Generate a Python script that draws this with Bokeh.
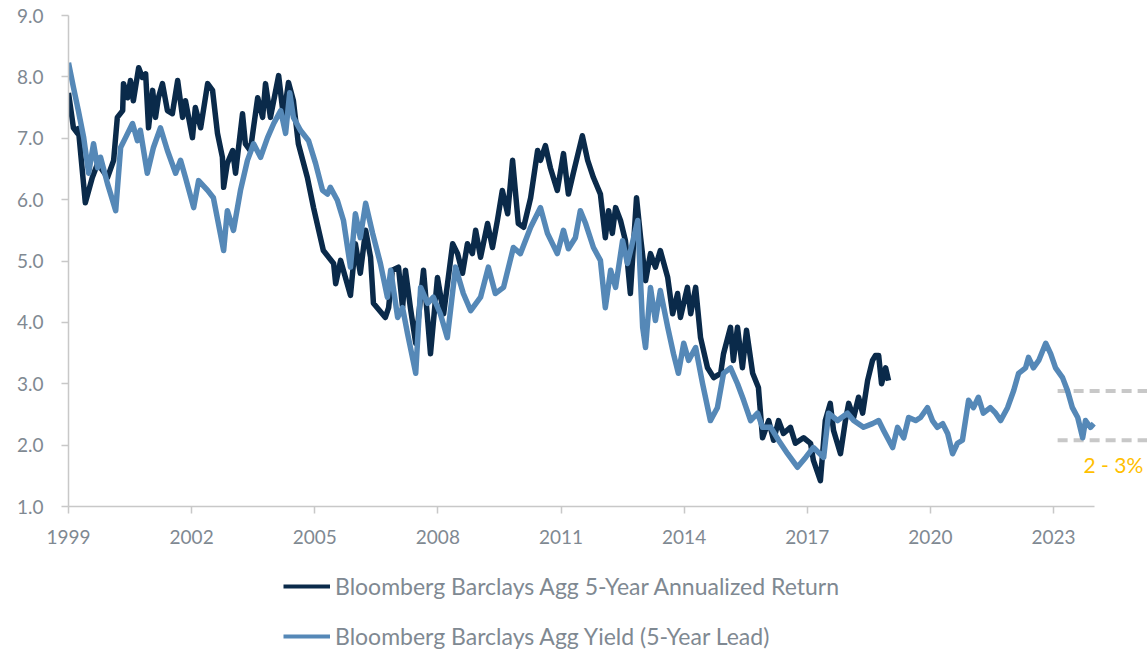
from bokeh.plotting import figure
from bokeh.layouts import column
from bokeh.models import Legend, LegendItem, FixedTicker, NumeralTickFormatter, Label, Range1d
from bokeh.embed import file_html
from bokeh.resources import INLINE

# Bloomberg Barclays Agg 5-Year Annualized Return
ret_years = [1999.00, 1999.12, 1999.22, 1999.24, 1999.41, 1999.58, 1999.71, 1999.95, 2000.10, 2000.19,
             2000.32, 2000.34, 2000.44, 2000.51, 2000.58, 2000.71, 2000.80, 2000.88, 2000.95, 2001.05,
             2001.12, 2001.19, 2001.29, 2001.41, 2001.53, 2001.66, 2001.78, 2001.85, 2002.02, 2002.09,
             2002.22, 2002.39, 2002.51, 2002.63, 2002.75, 2002.78, 2002.87, 2003.00, 2003.07, 2003.24,
             2003.31, 2003.43, 2003.61, 2003.73, 2003.80, 2003.92, 2004.12, 2004.24, 2004.36, 2004.48,
             2004.60, 2004.82, 2004.97, 2005.21, 2005.46, 2005.51, 2005.63, 2005.87, 2005.99, 2006.11,
             2006.24, 2006.36, 2006.43, 2006.72, 2006.80, 2006.89, 2007.04, 2007.14, 2007.21, 2007.33,
             2007.46, 2007.65, 2007.82, 2007.99, 2008.14, 2008.36, 2008.48, 2008.60, 2008.72, 2008.84,
             2008.92, 2009.04, 2009.21, 2009.33, 2009.45, 2009.57, 2009.70, 2009.82, 2009.96, 2010.09,
             2010.26, 2010.43, 2010.50, 2010.62, 2010.74, 2010.91, 2011.06, 2011.18, 2011.30, 2011.52,
             2011.65, 2011.79, 2011.96, 2012.08, 2012.16, 2012.25, 2012.33, 2012.45, 2012.57, 2012.69,
             2012.84, 2012.94, 2013.06, 2013.18, 2013.30, 2013.42, 2013.60, 2013.72, 2013.84, 2013.91,
             2014.08, 2014.16, 2014.28, 2014.40, 2014.57, 2014.72, 2014.89, 2014.96, 2015.13, 2015.20,
             2015.30, 2015.42, 2015.52, 2015.67, 2015.81, 2015.91, 2016.06, 2016.18, 2016.30, 2016.42,
             2016.59, 2016.71, 2016.91, 2017.08, 2017.15, 2017.32, 2017.44, 2017.56, 2017.64, 2017.81,
             2017.93, 2018.01, 2018.13, 2018.25, 2018.35, 2018.47, 2018.59, 2018.66, 2018.74, 2018.81,
             2018.91, 2018.98]
ret_vals = [7.74, 7.17, 7.08, 7.16, 5.95, 6.36, 6.59, 6.36, 6.64, 7.34,
            7.45, 7.89, 7.66, 7.94, 7.61, 8.15, 7.99, 8.05, 7.17, 7.78,
            7.34, 7.66, 7.89, 7.45, 7.40, 7.94, 7.34, 7.61, 7.01, 7.50,
            7.17, 7.89, 7.78, 7.08, 6.69, 6.20, 6.59, 6.80, 6.43, 7.40,
            6.91, 6.80, 7.66, 7.34, 7.89, 7.34, 8.02, 7.34, 7.91, 7.61,
            6.91, 6.36, 5.87, 5.17, 4.96, 4.63, 5.01, 4.44, 5.28, 4.80,
            5.50, 5.06, 4.31, 4.08, 4.24, 4.85, 4.90, 4.24, 4.85, 4.24,
            3.66, 4.85, 3.49, 4.73, 4.14, 5.28, 5.12, 4.80, 5.28, 5.12,
            5.50, 5.06, 5.61, 5.22, 5.66, 6.15, 5.77, 6.64, 5.61, 5.55,
            6.03, 6.80, 6.64, 6.88, 6.52, 6.15, 6.75, 6.09, 6.43, 7.04,
            6.64, 6.36, 6.09, 5.38, 5.82, 5.45, 5.87, 5.66, 5.33, 4.47,
            6.03, 5.38, 4.68, 5.12, 4.90, 5.17, 4.73, 4.14, 4.47, 4.08,
            4.57, 4.14, 4.57, 3.75, 3.26, 3.10, 3.17, 3.49, 3.92, 3.38,
            3.92, 3.26, 3.87, 3.17, 2.94, 2.12, 2.40, 2.08, 2.40, 2.19,
            2.29, 2.03, 2.12, 2.03, 1.75, 1.42, 2.40, 2.68, 2.24, 1.86,
            2.40, 2.68, 2.45, 2.78, 2.52, 3.05, 3.38, 3.46, 3.46, 3.00,
            3.26, 3.05]

# Bloomberg Barclays Agg Yield (5-Year Lead)
yld_years = [1999.00, 1999.12, 1999.24, 1999.37, 1999.49, 1999.61, 1999.71, 1999.78, 1999.95, 2000.15,
             2000.27, 2000.39, 2000.56, 2000.68, 2000.75, 2000.92, 2001.07, 2001.24, 2001.41, 2001.61,
             2001.73, 2001.85, 2002.05, 2002.17, 2002.39, 2002.53, 2002.78, 2002.87, 2003.02, 2003.19,
             2003.36, 2003.51, 2003.68, 2003.85, 2004.00, 2004.17, 2004.29, 2004.39, 2004.48, 2004.65,
             2004.85, 2005.02, 2005.19, 2005.31, 2005.38, 2005.55, 2005.70, 2005.87, 2005.99, 2006.11,
             2006.24, 2006.41, 2006.60, 2006.77, 2006.85, 2007.02, 2007.14, 2007.26, 2007.46, 2007.58,
             2007.75, 2007.89, 2008.06, 2008.23, 2008.43, 2008.62, 2008.80, 2009.04, 2009.23, 2009.40,
             2009.60, 2009.84, 2010.01, 2010.26, 2010.50, 2010.67, 2010.91, 2011.06, 2011.18, 2011.35,
             2011.47, 2011.60, 2011.79, 2011.96, 2012.08, 2012.21, 2012.33, 2012.50, 2012.62, 2012.87,
             2012.99, 2013.06, 2013.18, 2013.30, 2013.42, 2013.60, 2013.74, 2013.86, 2013.99, 2014.11,
             2014.28, 2014.45, 2014.64, 2014.81, 2014.96, 2015.13, 2015.30, 2015.45, 2015.62, 2015.79,
             2015.91, 2016.11, 2016.30, 2016.52, 2016.76, 2016.96, 2017.15, 2017.40, 2017.52, 2017.74,
             2017.98, 2018.13, 2018.37, 2018.59, 2018.74, 2018.86, 2019.08, 2019.20, 2019.35, 2019.47,
             2019.64, 2019.76, 2019.93, 2020.05, 2020.17, 2020.30, 2020.42, 2020.54, 2020.66, 2020.78,
             2020.93, 2021.05, 2021.17, 2021.29, 2021.46, 2021.59, 2021.71, 2021.88, 2022.03, 2022.15,
             2022.32, 2022.39, 2022.51, 2022.64, 2022.81, 2022.93, 2023.05, 2023.22, 2023.34, 2023.46,
             2023.59, 2023.71, 2023.78, 2023.90, 2023.98]
yld_vals = [8.23, 7.83, 7.45, 7.01, 6.43, 6.91, 6.52, 6.69, 6.26, 5.82,
            6.85, 7.01, 7.24, 6.96, 7.13, 6.43, 6.85, 7.17, 6.80, 6.43,
            6.64, 6.36, 5.87, 6.31, 6.15, 6.03, 5.17, 5.82, 5.50, 6.15,
            6.64, 6.91, 6.69, 7.01, 7.24, 7.45, 7.08, 7.74, 7.34, 7.13,
            6.96, 6.59, 6.15, 6.09, 6.20, 5.99, 5.66, 4.90, 5.77, 5.38,
            5.94, 5.45, 4.96, 4.41, 4.85, 4.08, 4.24, 3.82, 3.17, 4.57,
            4.31, 4.41, 4.14, 3.75, 4.90, 4.47, 4.19, 4.41, 4.90, 4.47,
            4.57, 5.22, 5.12, 5.55, 5.87, 5.45, 5.12, 5.50, 5.20, 5.38,
            5.82, 5.61, 5.22, 5.01, 4.24, 4.85, 4.57, 5.33, 4.96, 5.66,
            3.92, 3.59, 4.57, 4.03, 4.52, 3.92, 3.49, 3.17, 3.66, 3.38,
            3.59, 3.00, 2.40, 2.61, 3.17, 3.26, 3.00, 2.73, 2.40, 2.52,
            2.29, 2.29, 2.08, 1.86, 1.64, 1.80, 1.96, 1.80, 2.52, 2.40,
            2.52, 2.40, 2.29, 2.35, 2.40, 2.24, 1.96, 2.29, 2.12, 2.45,
            2.40, 2.45, 2.61, 2.40, 2.29, 2.35, 2.19, 1.86, 2.03, 2.08,
            2.73, 2.61, 2.78, 2.52, 2.61, 2.52, 2.40, 2.61, 2.89, 3.17,
            3.26, 3.43, 3.26, 3.38, 3.66, 3.49, 3.26, 3.10, 2.89, 2.61,
            2.45, 2.12, 2.40, 2.29, 2.35]

band_levels = [2.88, 2.08]
band_span = [2023.1, 2025.5]
band_label = "2 - 3%"
x_ticks = [1999, 2002, 2005, 2008, 2011, 2014, 2017, 2020, 2023]
y_ticks = [1, 2, 3, 4, 5, 6, 7, 8, 9]
series_names = ["Bloomberg Barclays Agg 5-Year Annualized Return",
                "Bloomberg Barclays Agg Yield (5-Year Lead)"]

DARK = "#0a2a4a"
LIGHT = "#5588b7"
GREY_TXT = "#7f8992"
AXIS = "#c8c8c8"
FONT = "Lato"

p = figure(width=1147, height=560, output_backend="svg", toolbar_location=None,
           x_range=Range1d(1999, 2025.29), y_range=Range1d(1, 9),
           min_border_left=68, min_border_top=15, min_border_right=0, min_border_bottom=54)
p.xgrid.visible = False
p.ygrid.visible = False
p.outline_line_color = None
p.background_fill_color = "white"
p.border_fill_color = "white"

for ax in (p.xaxis[0], p.yaxis[0]):
    ax.axis_line_color = AXIS
    ax.axis_line_width = 1.5
    ax.major_tick_line_color = AXIS
    ax.major_tick_line_width = 1.5
    ax.major_tick_in = 0
    ax.major_tick_out = 7
    ax.minor_tick_line_color = None
    ax.major_label_text_color = GREY_TXT
    ax.major_label_text_font = FONT
    ax.major_label_text_font_size = "19px"

p.xaxis.ticker = FixedTicker(ticks=x_ticks)
p.xaxis.bounds = (1999, 2024)
p.xaxis.major_label_standoff = 16
p.yaxis.ticker = FixedTicker(ticks=y_ticks)
p.yaxis.formatter = NumeralTickFormatter(format="0.0")
p.yaxis.major_label_standoff = 18

for lvl in band_levels:
    p.line(band_span, [lvl, lvl], line_color="#c8c8c8", line_width=4, line_dash="10 6")

p.line(ret_years, ret_vals, line_color=DARK, line_width=5.5, line_join="round")
p.line(yld_years, yld_vals, line_color=LIGHT, line_width=5.5, line_join="round")

lab = Label(x=2023.73, y=1.68, text=band_label, text_color="#FFC000", text_font=FONT,
            text_font_size="21px", text_baseline="middle", text_align="left")
p.add_layout(lab)

# legend strip below the chart
lg = figure(width=1147, height=91, output_backend="svg", toolbar_location=None,
            x_range=Range1d(1999, 2025.29), y_range=Range1d(1, 9),
            x_axis_location=None, y_axis_location=None,
            min_border_left=0, min_border_top=0, min_border_right=0, min_border_bottom=0)
lg.xgrid.visible = False
lg.ygrid.visible = False
lg.outline_line_color = None
lg.border_fill_color = "white"
k_ret = lg.line(ret_years, ret_vals, line_color=DARK, line_width=4, visible=False)
k_yld = lg.line(yld_years, yld_vals, line_color=LIGHT, line_width=4, visible=False)

legend = Legend(items=[LegendItem(label=series_names[0], renderers=[k_ret]),
                       LegendItem(label=series_names[1], renderers=[k_yld])],
                location=(215, 1), orientation="vertical",
                label_text_font=FONT, label_text_font_size="23px", label_text_color=GREY_TXT,
                glyph_width=47, glyph_height=24, label_height=24, label_standoff=5,
                spacing=22, padding=0, margin=0,
                border_line_color=None, background_fill_alpha=0)
lg.add_layout(legend)

open("out.html", "w").write(file_html(column(p, lg), INLINE))
